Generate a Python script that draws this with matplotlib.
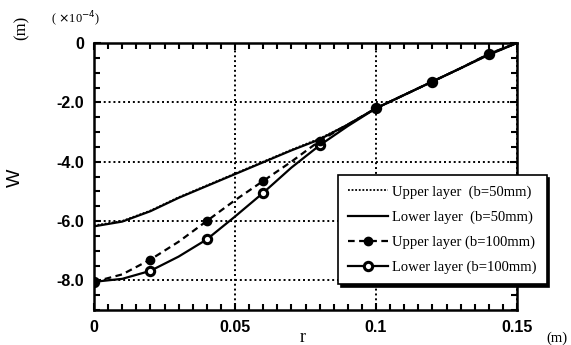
import matplotlib.pyplot as plt
from matplotlib.ticker import MultipleLocator, FixedLocator
import numpy as np

# r positions (m) and deflection W (x1e-4 m)
r_b50 = [0.0, 0.01, 0.02, 0.03, 0.04, 0.05, 0.06, 0.07, 0.08, 0.09, 0.10, 0.12, 0.14, 0.15]
w_upper_b50 = [-6.15, -6.0, -5.65, -5.2, -4.8, -4.4, -4.0, -3.6, -3.22, -2.75, -2.2, -1.3, -0.4, 0.0]
w_lower_b50 = [-6.18, -6.02, -5.67, -5.22, -4.82, -4.42, -4.02, -3.62, -3.25, -2.75, -2.2, -1.3, -0.4, 0.0]

r_b100 = [0.0, 0.01, 0.02, 0.03, 0.04, 0.05, 0.06, 0.07, 0.08, 0.09, 0.10, 0.11, 0.12, 0.13, 0.14, 0.15]
w_upper_b100 = [-8.05, -7.8, -7.3, -6.7, -6.0, -5.3, -4.65, -4.0, -3.3, -2.75, -2.2, -1.75, -1.3, -0.85, -0.37, 0.0]
w_lower_b100 = [-8.05, -7.95, -7.68, -7.2, -6.62, -5.85, -5.05, -4.2, -3.45, -2.8, -2.2, -1.75, -1.3, -0.85, -0.37, 0.0]

xticks = [0, 0.05, 0.1, 0.15]
xticklabels = ['0', '0.05', '0.1', '0.15']
yticks = [0, -2, -4, -6, -8]
yticklabels = ['0', '-2.0', '-4.0', '-6.0', '-8.0']

serif = 'Liberation Serif'
sans = 'Liberation Sans'

fig = plt.figure(figsize=(5.71, 3.45), dpi=100)
ax = fig.add_axes([94/571, 1-310/345, 423/571, 267/345])

ax.plot(r_b50, w_upper_b50, color='k', ls=(0, (1, 1)), lw=1.3, label='Upper layer  (b=50mm)')
ax.plot(r_b50, w_lower_b50, color='k', ls='-', lw=1.6, label='Lower layer  (b=50mm)')
ax.plot(r_b100, w_upper_b100, color='k', ls=(0, (3, 2)), lw=1.6, marker='o', ms=6,
        mfc='k', mec='k', markevery=2, zorder=4, label='Upper layer (b=100mm)')
ax.plot(r_b100, w_lower_b100, color='k', ls='-', lw=1.6, marker='o', ms=6,
        mfc='white', mec='k', mew=2.2, markevery=2, zorder=3, label='Lower layer (b=100mm)')

ax.set_xlim(0, 0.15)
ax.set_ylim(-9, 0)
ax.xaxis.set_major_locator(FixedLocator(xticks))
ax.set_xticklabels(xticklabels)
ax.yaxis.set_major_locator(FixedLocator(yticks))
ax.set_yticklabels(yticklabels)
ax.xaxis.set_minor_locator(MultipleLocator(0.005))
ax.yaxis.set_minor_locator(MultipleLocator(0.5))
ax.tick_params(which='both', direction='in', top=True, right=True, width=1.5, color='k')
ax.tick_params(which='major', length=5, labelsize=11.5, pad=7)
ax.tick_params(which='minor', length=4)
for lab in ax.get_xticklabels() + ax.get_yticklabels():
    lab.set_fontfamily(sans)
    lab.set_fontweight('bold')
for s in ax.spines.values():
    s.set_linewidth(1.8)

ax.grid(True, which='major', ls=(0, (1, 1.5)), color='k', lw=1.4)

leg = ax.legend(loc='upper left', bbox_to_anchor=(338/571, 1-175/345), bbox_transform=fig.transFigure,
                prop={'family': serif, 'size': 10.5}, frameon=True, fancybox=False,
                shadow={'color': 'k', 'alpha': 1}, handlelength=2.7, handletextpad=0.3,
                labelspacing=0.8, borderpad=0.7, borderaxespad=0)
leg.get_frame().set_edgecolor('k')
leg.get_frame().set_linewidth(1.2)
leg.get_frame().set_alpha(1)

fig.text(15/571, 1-178/345, 'W', fontsize=14, family=sans, rotation=90, ha='center', va='center')
fig.text(22/571, 1-28/345, '(m)', fontsize=12, family=serif, rotation=90, ha='center', va='center')
fig.text(76/571, 1-19/345, r'( $\times$10$^{-4}$)', fontsize=9, family=serif, ha='center', va='center')
fig.text(303/571, 1-338/345, 'r', fontsize=13, family=serif, ha='center', va='center')
fig.text(557/571, 1-338/345, '(m)', fontsize=10.5, family=serif, ha='center', va='center')

fig.savefig('out.png', dpi=100)
